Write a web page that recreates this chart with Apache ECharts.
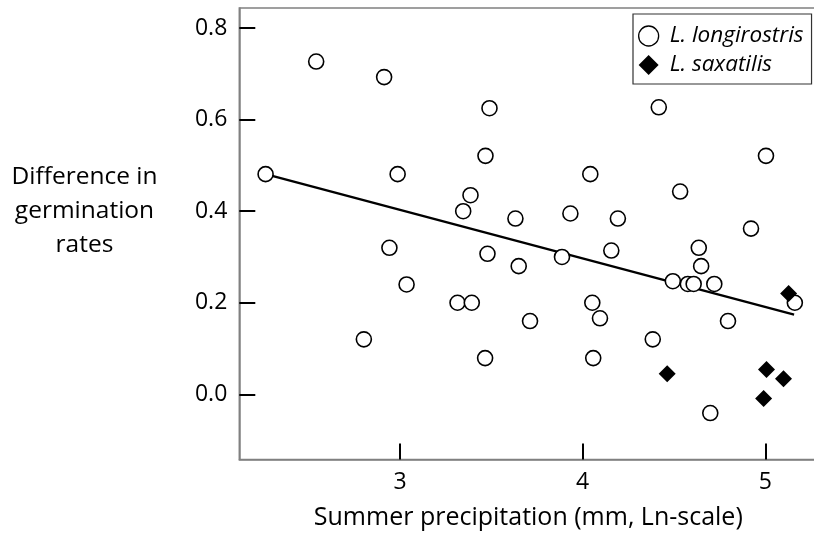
<!DOCTYPE html>
<html>
<head>
<meta charset="utf-8">
<script src="https://cdn.jsdelivr.net/npm/echarts@6/dist/echarts.min.js"></script>
<style>
html,body{margin:0;padding:0;background:#fff;}
#chart{width:814px;height:538px;}
</style>
</head>
<body>
<div id="chart"></div>
<script>
// ---- data ----
const longiX = [2.264, 2.541, 2.913, 2.987, 3.490, 3.468, 3.386, 3.346, 3.632, 4.417,
                5.004, 4.042, 4.534, 3.933, 4.193, 4.922, 2.942, 3.036, 3.315, 3.393,
                2.802, 3.466, 3.479, 3.650, 3.712, 3.887, 4.157, 4.636, 4.649, 4.494,
                4.576, 4.608, 4.721, 5.162, 4.053, 4.095, 4.796, 4.384, 4.058, 4.699];
const longiY = [0.481, 0.727, 0.693, 0.481, 0.625, 0.521, 0.435, 0.400, 0.384, 0.627,
                0.521, 0.481, 0.443, 0.395, 0.384, 0.362, 0.320, 0.240, 0.200, 0.200,
                0.120, 0.079, 0.307, 0.280, 0.160, 0.300, 0.314, 0.320, 0.280, 0.247,
                0.241, 0.241, 0.241, 0.200, 0.200, 0.166, 0.160, 0.120, 0.079, -0.041];
const saxX = [4.463, 5.128, 5.007, 5.100, 4.991];
const saxY = [0.045, 0.220, 0.054, 0.034, -0.009];
const fitX = [2.264, 5.158];
const fitY = [0.481, 0.174];
const xTicks = [3, 4, 5];
const yTicks = [0.0, 0.2, 0.4, 0.6, 0.8];
const seriesNames = ['L. longirostris', 'L. saxatilis'];
const xTitle = 'Summer precipitation (mm, Ln-scale)';
const yTitle = 'Difference in\ngermination\nrates';

const zip = (a, b) => a.map((v, i) => [v, b[i]]);
const FONT = 'Open Sans';

const chart = echarts.init(document.getElementById('chart'), null, {renderer: 'canvas'});
chart.setOption({
  animation: false,
  backgroundColor: '#fff',
  grid: {
    left: 239.3, top: 8, width: 578, height: 451.5,
    containLabel: false, outerBoundsMode: 'none',
    show: true, borderColor: '#808080', borderWidth: 1.5, backgroundColor: 'transparent'
  },
  legend: {
    left: 633, top: 14, orient: 'vertical',
    borderColor: '#333', borderWidth: 1.2,
    padding: [10, 8, 7, 5], itemGap: 5,
    itemWidth: 20, itemHeight: 20,
    textStyle: {fontFamily: FONT, fontSize: 22.5, fontStyle: 'italic', color: '#000', lineHeight: 24, padding: [0, 0, 0, 6]},
    data: [{name: seriesNames[0], itemStyle: {borderWidth: 1.3}}, {name: seriesNames[1]}]
  },
  xAxis: {
    type: 'value', min: 2.12, max: 5.285,
    splitLine: {show: false},
    axisLine: {show: true, onZero: false, lineStyle: {color: '#808080', width: 1.5}},
    axisTick: {show: true, inside: true, length: 16, lineStyle: {color: '#000', width: 2}, customValues: xTicks},
    axisLabel: {customValues: xTicks, margin: 11, fontFamily: FONT, fontSize: 23, color: '#000',
      formatter: v => String(v)},
    name: xTitle, nameLocation: 'middle', nameGap: 46,
    nameTextStyle: {fontFamily: FONT, fontSize: 25, color: '#000'}
  },
  yAxis: {
    type: 'value', min: -0.1425, max: 0.844,
    splitLine: {show: false},
    axisLine: {show: true, onZero: false, lineStyle: {color: '#808080', width: 1.5}},
    axisTick: {show: true, inside: true, length: 16, lineStyle: {color: '#000', width: 2}, customValues: yTicks},
    axisLabel: {customValues: yTicks, margin: 12, fontFamily: FONT, fontSize: 23, color: '#000',
      formatter: v => v.toFixed(1)}
  },
  graphic: [{
    type: 'text', x: 84.5, y: 211,
    style: {text: yTitle, font: '24.5px "' + FONT + '"', fill: '#000', textAlign: 'center',
      textVerticalAlign: 'middle', lineHeight: 34}
  }],
  series: [
    {
      name: 'fit', type: 'line', data: zip(fitX, fitY), symbol: 'none',
      lineStyle: {color: '#000', width: 2.3}, z: 1, silent: true
    },
    {
      name: seriesNames[0], type: 'scatter', data: zip(longiX, longiY),
      symbol: 'circle', symbolSize: 15,
      itemStyle: {color: '#fff', borderColor: '#000', borderWidth: 1.6, opacity: 1}, z: 2
    },
    {
      name: seriesNames[1], type: 'scatter', data: zip(saxX, saxY),
      symbol: 'diamond', symbolSize: 17,
      itemStyle: {color: '#000', borderColor: '#000', borderWidth: 0, opacity: 1}, z: 3
    }
  ]
});
</script>
</body>
</html>
